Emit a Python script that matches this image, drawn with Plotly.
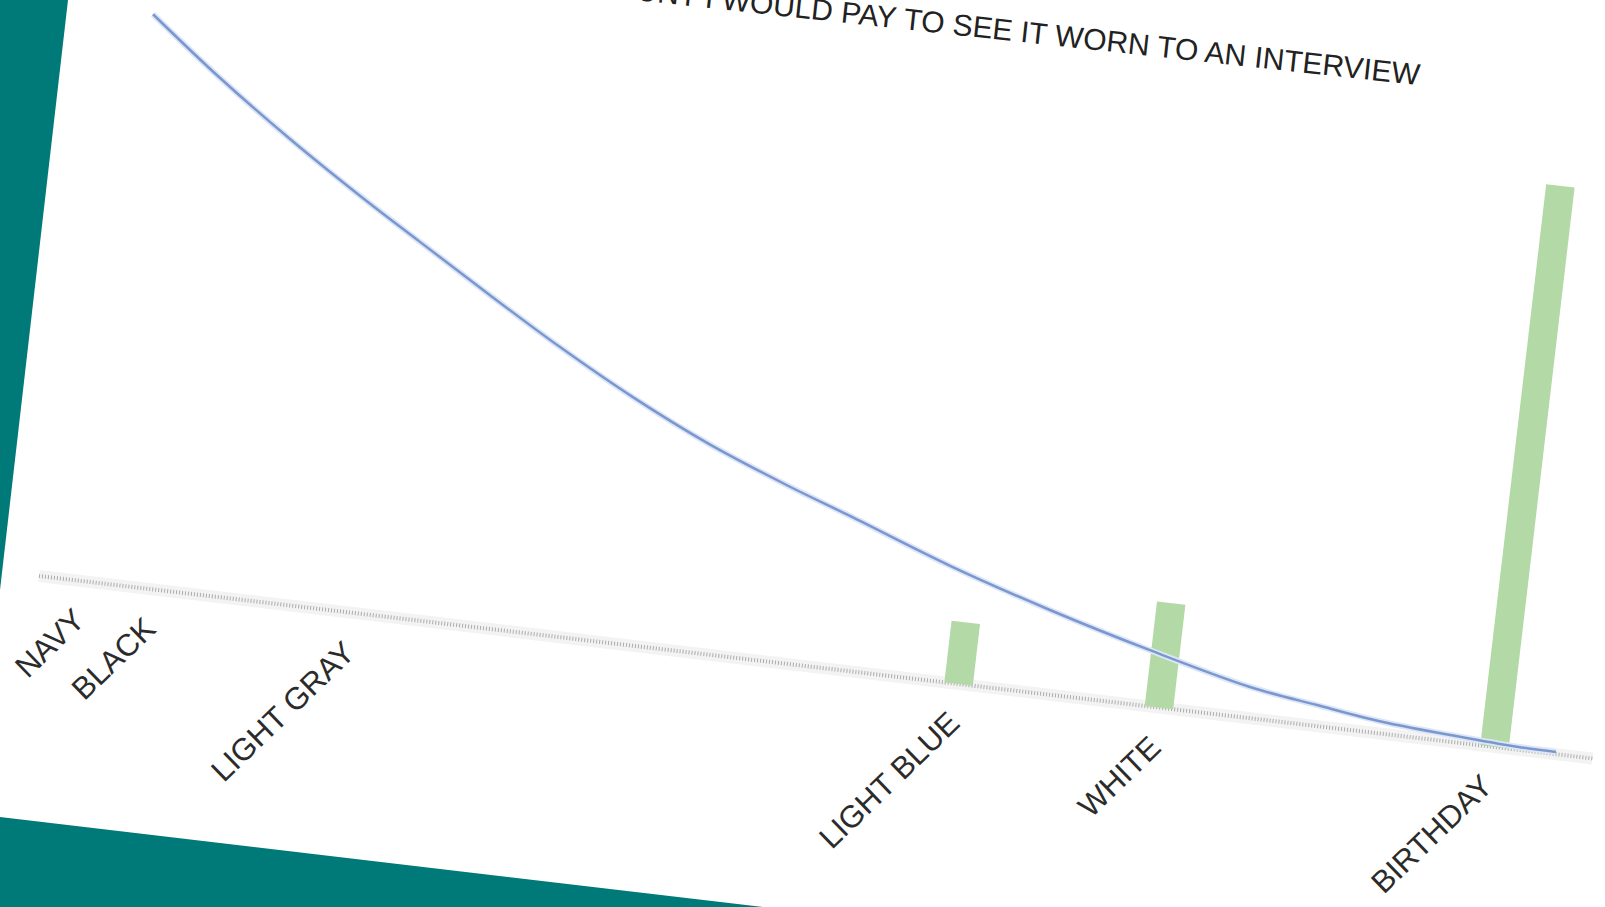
import math
import plotly.graph_objects as go

# ---------------- data (chart units: x = position along the axis 0-100, y = value, Birthday bar = 100)
categories = ["NAVY", "BLACK", "LIGHT GRAY", "LIGHT BLUE", "WHITE", "BIRTHDAY"]
category_x = [2.9, 7.5, 20.3, 59.2, 72.2, 93.6]

bar_categories = ["LIGHT BLUE", "WHITE", "BIRTHDAY"]
bar_x = [59.2, 72.1, 93.7]
bar_values = [11.0, 18.6, 100.0]

curve_x = [3.05, 7.57, 12.68, 17.76, 21.70, 26.34, 31.38, 36.38, 41.43, 46.82,
           51.05, 57.78, 64.45, 71.10, 77.73, 82.12, 86.44, 90.79, 95.13, 97.65]
curve_y = [101.1, 91.7, 82.0, 73.1, 66.6, 59.0, 51.0, 43.7, 37.2, 31.4,
           27.3, 20.6, 14.9, 9.9, 5.5, 3.7, 2.1, 1.2, 0.5, 0.4]

axis_range = [0, 100]
title_text = "AMOUNT I WOULD PAY TO SEE IT WORN TO AN INTERVIEW"

# ---------------- camera: the chart is photographed slightly rotated
W, H = 1605, 907
ANG = math.radians(6.7)
CA, SA = math.cos(ANG), math.sin(ANG)
ORIGIN = (39.0, 576.0)
SX, SY = 15.64, 5.65
BAR_W = 1.83


def to_screen(x, y):
    u, v = x * SX, y * SY
    return ORIGIN[0] + u * CA + v * SA, ORIGIN[1] + u * SA - v * CA


def offset(px, py, along, down):
    # move in the rotated frame (pixels)
    return px + along * CA - down * SA, py + along * SA + down * CA


fig = go.Figure()

# faint axis halo + dotted axis line
ax_pts = [to_screen(x, 0) for x in axis_range]
fig.add_trace(go.Scatter(x=[p[0] for p in ax_pts], y=[p[1] for p in ax_pts], mode="lines",
                         line=dict(color="#f3f3f3", width=12), hoverinfo="skip", showlegend=False))
fig.add_trace(go.Scatter(x=[p[0] for p in ax_pts], y=[p[1] for p in ax_pts], mode="lines",
                         line=dict(color="#ababab", width=4, dash="1px,2px"), hoverinfo="skip", showlegend=False))

# bars
for name, bx, bv in zip(bar_categories, bar_x, bar_values):
    corners = [(bx - BAR_W / 2, 0), (bx + BAR_W / 2, 0), (bx + BAR_W / 2, bv), (bx - BAR_W / 2, bv), (bx - BAR_W / 2, 0)]
    pts = [to_screen(cx, cy) for cx, cy in corners]
    fig.add_trace(go.Scatter(x=[p[0] for p in pts], y=[p[1] for p in pts], mode="lines", fill="toself",
                             fillcolor="#b3d9a7", line=dict(width=0, color="#b3d9a7"), name=name,
                             hoverinfo="skip", showlegend=False))

# curve
cpts = [to_screen(x, y) for x, y in zip(curve_x, curve_y)]
fig.add_trace(go.Scatter(x=[p[0] for p in cpts], y=[p[1] for p in cpts], mode="lines",
                         line=dict(color="#dde6f6", width=6, shape="spline"), hoverinfo="skip", showlegend=False))
fig.add_trace(go.Scatter(x=[p[0] for p in cpts], y=[p[1] for p in cpts], mode="lines",
                         line=dict(color="#7b97cf", width=2.5, shape="spline"), hoverinfo="skip", showlegend=False))

# category labels
annotations = []
for name, cx in zip(categories, category_x):
    px, py = to_screen(cx, 0)
    ax_, ay_ = offset(px, py, 12, 17)
    annotations.append(dict(x=ax_, y=ay_, xref="x", yref="y", text=name, showarrow=False,
                            xanchor="right", yanchor="top", textangle=-44,
                            font=dict(family="Liberation Sans, Arial, sans-serif", size=31, color="#2b2b2b")))

# title (partly cut off by the top of the photo)
tx, ty = to_screen(84.4, 113.5)
annotations.append(dict(x=tx, y=ty, xref="x", yref="y", text=title_text, showarrow=False,
                        xanchor="right", yanchor="bottom", textangle=6.2,
                        font=dict(family="Liberation Sans, Arial, sans-serif", size=30, color="#222222")))

teal = "#007a78"
shapes = [
    dict(type="path", xref="x", yref="y", path="M 0 0 L 68 0 L 0 590 Z", fillcolor=teal, line=dict(width=0), layer="above"),
    dict(type="path", xref="x", yref="y", path="M 0 817 L 763 907 L 0 907 Z", fillcolor=teal, line=dict(width=0), layer="above"),
]

fig.update_layout(
    width=W, height=H, margin=dict(l=0, r=0, t=0, b=0),
    paper_bgcolor="white", plot_bgcolor="white",
    xaxis=dict(range=[0, W], visible=False, fixedrange=True),
    yaxis=dict(range=[H, 0], visible=False, fixedrange=True),
    annotations=annotations, shapes=shapes, showlegend=False,
)

fig.write_html("out.html")
